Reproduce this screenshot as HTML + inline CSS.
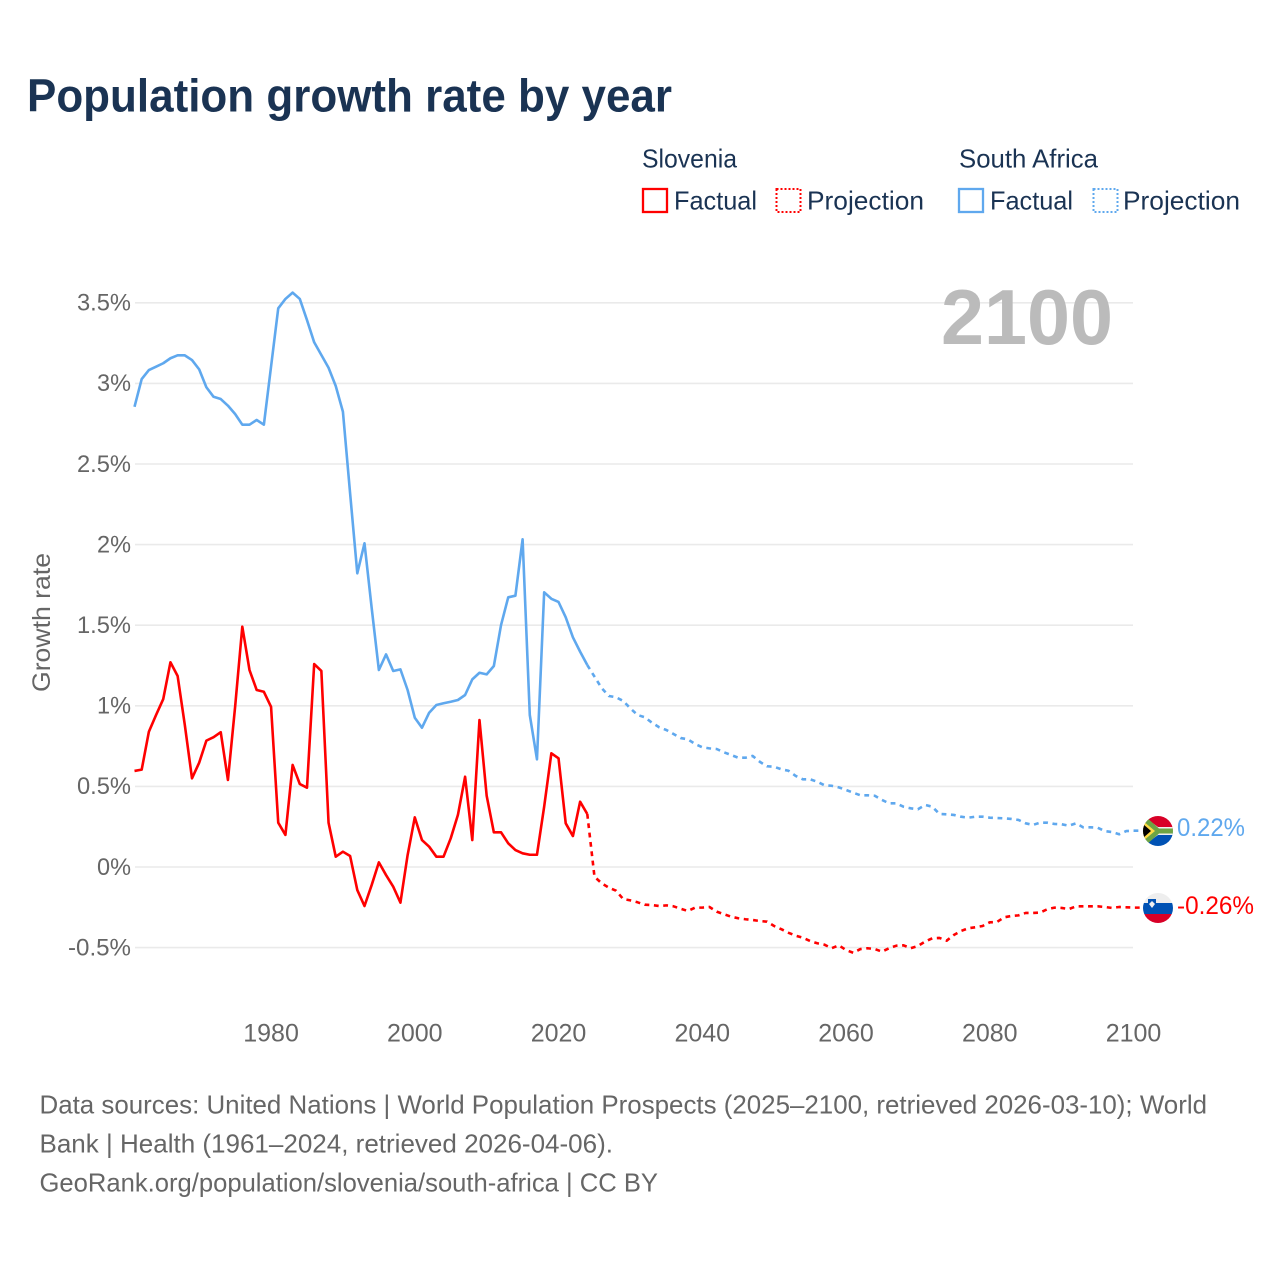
<!DOCTYPE html>
<html lang="en">
<head>
<meta charset="utf-8">
<title>Population growth rate by year</title>
<style>
html,body{margin:0;padding:0;background:#fff;}
svg{display:block;font-family:"Liberation Sans",Arial,sans-serif;}
</style>
</head>
<body>
<svg id="chart" xmlns="http://www.w3.org/2000/svg" width="1280" height="1280" viewBox="0 0 1280 1280">
  <rect x="0" y="0" width="1280" height="1280" fill="#ffffff"/>
  <text x="27" y="111.500" font-size="46" font-weight="700" fill="#1a3353" textLength="645" lengthAdjust="spacingAndGlyphs">Population growth rate by year</text>

  <g font-size="26" fill="#1a3353">
    <text x="642" y="167.500" textLength="95" lengthAdjust="spacingAndGlyphs">Slovenia</text>
    <text x="959" y="167.500" textLength="139" lengthAdjust="spacingAndGlyphs">South Africa</text>
    <rect x="643" y="189" width="24" height="23" fill="none" stroke="#ff0000" stroke-width="2.300"/>
    <text x="674" y="209.500" textLength="83" lengthAdjust="spacingAndGlyphs">Factual</text>
    <rect x="776.500" y="189" width="24" height="23" fill="none" stroke="#ff0000" stroke-width="2" stroke-dasharray="2 2"/>
    <text x="807" y="209.500" textLength="117" lengthAdjust="spacingAndGlyphs">Projection</text>
    <rect x="959" y="189" width="24" height="23" fill="none" stroke="#5fa8ee" stroke-width="2.300"/>
    <text x="990" y="209.500" textLength="83" lengthAdjust="spacingAndGlyphs">Factual</text>
    <rect x="1093.500" y="189" width="24" height="23" fill="none" stroke="#5fa8ee" stroke-width="2" stroke-dasharray="2 2"/>
    <text x="1123" y="209.500" textLength="117" lengthAdjust="spacingAndGlyphs">Projection</text>
  </g>

  <g id="grid"></g>
  <g id="yticks" font-size="24" fill="#666666" text-anchor="end"></g>
  <g id="xticks" font-size="25" fill="#666666" text-anchor="middle"></g>
  <text transform="translate(50,622.500) rotate(-90)" text-anchor="middle" font-size="25" fill="#666666" textLength="139" lengthAdjust="spacingAndGlyphs">Growth rate</text>

  <text x="941" y="344" font-size="78" font-weight="700" fill="#bbbbbb" textLength="172" lengthAdjust="spacingAndGlyphs">2100</text>

  <g id="series" fill="none" stroke-linejoin="round"></g>

  <defs>
    <clipPath id="clip-sa"><circle cx="1158" cy="831" r="15"/></clipPath>
    <clipPath id="clip-si"><circle cx="1158" cy="908" r="15"/></clipPath>
  </defs>
  <g clip-path="url(#clip-sa)">
    <rect x="1143" y="816" width="30" height="15" fill="#d80027"/>
    <rect x="1143" y="831" width="30" height="15" fill="#0052b4"/>
    <path d="M1143 816 L1158 827 H1173 V835 H1158 L1143 846 Z" fill="#f0f0f0"/>
    <path d="M1145 816 L1159 828.500 H1173 V833.500 H1159 L1145 846 H1143 V816 Z" fill="#6da544"/>
    <path d="M1143 821 L1155 831 L1143 841 Z" fill="#ffda44"/>
    <path d="M1143 824 L1151 831 L1143 838 Z" fill="#000000"/>
  </g>
  <g clip-path="url(#clip-si)">
    <rect x="1143" y="893" width="30" height="10" fill="#eeeeee"/>
    <rect x="1143" y="903" width="30" height="11" fill="#0052b4"/>
    <rect x="1143" y="914" width="30" height="9" fill="#d80027"/>
    <path d="M1148 899 H1156 V905 L1152 909 L1148 905 Z" fill="#0052b4"/>
    <path d="M1149 904 L1152 901 L1155 904 L1152 908 Z" fill="#f0f0f0"/>
  </g>

  <text id="label-sa" x="1177" y="836" font-size="25" fill="#5fa8ee" textLength="68" lengthAdjust="spacingAndGlyphs">0.22%</text>
  <text id="label-si" x="1177" y="914" font-size="25" fill="#ff0000" textLength="77" lengthAdjust="spacingAndGlyphs">-0.26%</text>

  <g font-size="26" fill="#666666">
    <text x="39.500" y="1113.500" textLength="1167.500" lengthAdjust="spacingAndGlyphs">Data sources: United Nations | World Population Prospects (2025–2100, retrieved 2026-03-10); World</text>
    <text x="39.500" y="1152.500" textLength="573.500" lengthAdjust="spacingAndGlyphs">Bank | Health (1961–2024, retrieved 2026-04-06).</text>
    <text x="39.500" y="1191.500" textLength="618.500" lengthAdjust="spacingAndGlyphs">GeoRank.org/population/slovenia/south-africa | CC BY</text>
  </g>
</svg>
<script>
const yTicks = [-0.5, 0, 0.5, 1, 1.5, 2, 2.5, 3, 3.5];
const xTicks = [1980, 2000, 2020, 2040, 2060, 2080, 2100];
const factualStartYear = 1961;
const projectionStartYear = 2024;

const southAfricaFactual = [
  2.855,3.027,3.083,3.104,3.125,3.156,3.174,3.174,3.145,3.087,
  2.976,2.917,2.903,2.862,2.810,2.744,2.744,2.773,2.744,3.104,
  3.466,3.524,3.563,3.524,3.393,3.255,3.176,3.097,2.984,2.824,
  2.318,1.822,2.008,1.607,1.222,1.319,1.216,1.226,1.098,0.926,
  0.864,0.957,1.005,1.016,1.025,1.036,1.067,1.164,1.205,1.195,
  1.247,1.501,1.673,1.683,2.033,0.943,0.668,1.704,1.664,1.644,
  1.549,1.425,1.336,1.253
];
const southAfricaProjection = [
  1.253,1.181,1.110,1.061,1.053,1.030,0.984,0.943,0.929,0.895,0.867,
  0.850,0.825,0.800,0.792,0.763,0.743,0.736,0.732,0.712,0.695,
  0.678,0.678,0.689,0.653,0.625,0.622,0.606,0.597,0.565,0.544,
  0.544,0.529,0.507,0.504,0.494,0.478,0.461,0.445,0.445,0.442,
  0.416,0.395,0.395,0.374,0.364,0.358,0.385,0.374,0.329,0.327,
  0.323,0.312,0.306,0.312,0.312,0.306,0.304,0.302,0.298,0.292,
  0.271,0.261,0.275,0.275,0.267,0.265,0.256,0.271,0.246,0.246,
  0.244,0.223,0.217,0.203,0.223,0.225
];
const sloveniaFactual = [
  0.596,0.604,0.839,0.943,1.042,1.270,1.185,0.881,0.550,0.647,
  0.784,0.805,0.836,0.540,0.994,1.491,1.222,1.098,1.087,0.994,
  0.275,0.199,0.633,0.515,0.492,1.259,1.216,0.275,0.064,0.095,
  0.068,-0.143,-0.242,-0.112,0.029,-0.050,-0.122,-0.221,0.074,0.308,
  0.167,0.126,0.064,0.064,0.178,0.323,0.560,0.167,0.912,0.442,
  0.215,0.215,0.147,0.105,0.085,0.076,0.076,0.374,0.705,0.674,
  0.271,0.192,0.405,0.329
];
const sloveniaProjection = [
  0.329,-0.060,-0.101,-0.128,-0.147,-0.199,-0.207,-0.219,-0.234,-0.236,-0.242,
  -0.238,-0.244,-0.259,-0.273,-0.252,-0.252,-0.248,-0.277,-0.293,-0.308,
  -0.318,-0.324,-0.329,-0.335,-0.339,-0.366,-0.386,-0.408,-0.426,-0.439,
  -0.459,-0.473,-0.482,-0.504,-0.486,-0.515,-0.532,-0.509,-0.504,-0.509,
  -0.525,-0.504,-0.488,-0.486,-0.504,-0.490,-0.463,-0.442,-0.440,-0.457,
  -0.422,-0.397,-0.380,-0.374,-0.366,-0.343,-0.341,-0.312,-0.304,-0.300,
  -0.285,-0.285,-0.283,-0.262,-0.252,-0.254,-0.261,-0.244,-0.244,-0.244,
  -0.244,-0.248,-0.254,-0.248,-0.250,-0.252
];

const NS = 'http://www.w3.org/2000/svg';
function xScale(year) { return 134.5 + (year - 1961) * (999 / 139); }
function yScale(value) { return 867 - value * 161.2; }
function make(tag, attrs, parent) {
  const el = document.createElementNS(NS, tag);
  for (const k in attrs) el.setAttribute(k, attrs[k]);
  parent.appendChild(el);
  return el;
}
function tickLabel(v) { return v + '%'; }
function tickWidth(s) {
  let w = 0;
  for (const c of s) w += c === '%' ? 20 : c === '.' ? 6 : c === '-' ? 9 : 14;
  return w;
}

const gridG = document.getElementById('grid');
const yG = document.getElementById('yticks');
yTicks.forEach(function (v) {
  const line = make('line', { x1: 135, x2: 1133, y1: yScale(v), y2: yScale(v), stroke: '#eaeaea', 'stroke-width': 1.6 }, gridG);
  
  
  const s = tickLabel(v);
  const t = make('text', { x: 131, y: yScale(v) + 7.8, textLength: tickWidth(s), lengthAdjust: 'spacingAndGlyphs' }, yG);
  t.textContent = s;
  
  
});

const xG = document.getElementById('xticks');
xTicks.forEach(function (year) {
  const t = make('text', { x: xScale(year), y: 1041.5 }, xG);
  t.textContent = String(year);
  
  
});

function pathFrom(values, startYear, extendToX) {
  let d = '';
  values.forEach(function (v, i) {
    d += (i ? 'L' : 'M') + xScale(startYear + i).toFixed(2) + ' ' + yScale(v).toFixed(2) + ' ';
  });
  if (extendToX) d += 'L' + extendToX + ' ' + yScale(values[values.length - 1]).toFixed(2);
  return d;
}
const seriesG = document.getElementById('series');
const blue = '#5fa8ee';
const red = '#ff0000';

const saFact = make('path', { d: pathFrom(southAfricaFactual, factualStartYear), stroke: blue, 'stroke-width': 2.6 }, seriesG);



const saProj = make('path', { d: pathFrom(southAfricaProjection, projectionStartYear, 1145), stroke: blue, 'stroke-width': 2.6, 'stroke-dasharray': '4.8 4.6' }, seriesG);



const siFact = make('path', { d: pathFrom(sloveniaFactual, factualStartYear), stroke: red, 'stroke-width': 2.6 }, seriesG);



const siProj = make('path', { d: pathFrom(sloveniaProjection, projectionStartYear, 1145), stroke: red, 'stroke-width': 2.6, 'stroke-dasharray': '4.8 4.6' }, seriesG);


</script>
</body>
</html>
